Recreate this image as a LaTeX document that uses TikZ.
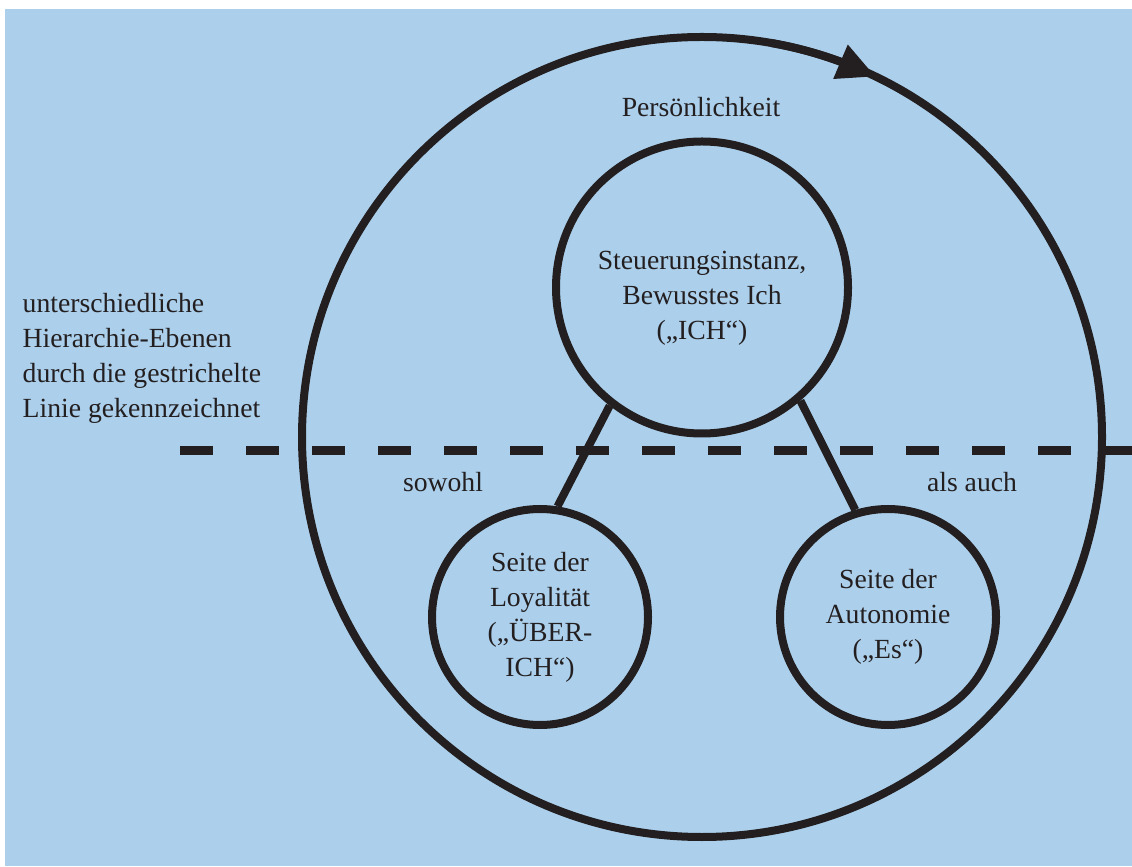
\documentclass[tikz,border=0pt]{standalone}
\usepackage{fontspec}
\setmainfont{Liberation Serif}
\usetikzlibrary{arrows.meta,bending}
\definecolor{hblau}{RGB}{172,208,236}
\definecolor{linie}{RGB}{35,31,32}
\newcommand{\schrift}{\fontsize{19.7pt}{24.9pt}\selectfont}

\begin{document}
\begin{tikzpicture}[
	kreis/.style={draw=linie, line width=0.2cm, circle, inner sep=0pt, align=center, text=linie, font=\schrift},
	beschr/.style={inner sep=0pt, align=center, text=linie, font=\schrift},
	verbindung/.style={draw=linie, line width=0.2cm}]
	% Hintergrund und Rand
	\fill[hblau] (0.125,0) rectangle (28.3,21.425);
	\useasboundingbox (0,0) rectangle (28.3,21.65);

	% Kreise
	\node[kreis, minimum size=20cm] (pers) at (17.55,10.725) {};
	\node[kreis, minimum size=7.3cm] (ich) at (17.55,14.4625) {};
	\node[kreis, minimum size=5.4cm] (ueber) at (13.5,6.225) {Seite der\\Loyalität\\(„ÜBER-\\ICH“)};
	\node[kreis, minimum size=5.4cm] (es) at (22.2,6.225) {Seite der\\Autonomie\\(„Es“)};

	% Beschriftungen
	\node[beschr, anchor=base] (perstext) at (17.525,18.725) {Persönlichkeit};
	\node[beschr] (ichtext) at (17.55,14.2) {Steuerungsinstanz,\\Bewusstes Ich\\(„ICH“)};
	\node[beschr, anchor=west, align=left] (ebenen) at (0.56,12.7) {unterschiedliche\\Hierarchie-Ebenen\\durch die gestrichelte\\Linie gekennzeichnet};
	\node[beschr, anchor=base] (sowohl) at (11.075,9.35) {sowohl};
	\node[beschr, anchor=base] (alsauch) at (24.3,9.35) {als auch};

	% gestrichelte Linie
	\coordinate (dl) at (4.5,10.375);
	\coordinate (dr) at (28.3,10.375);
	\draw[draw=linie, line width=0.225cm, dash pattern=on 0.825cm off 0.825cm] (dl) -- (dr);

	% Verbindungen
	\draw[verbindung] (ich.232) -- (ueber.81);
	\draw[verbindung] (ich.311) -- (es.107);

	% Pfeil auf dem grossen Kreis
	\draw[verbindung, -{Triangle[length=0.95cm,width=0.875cm]}] (pers.center) ++(80:10) arc[start angle=80, end angle=64.3, radius=10];
\end{tikzpicture}
\end{document}
